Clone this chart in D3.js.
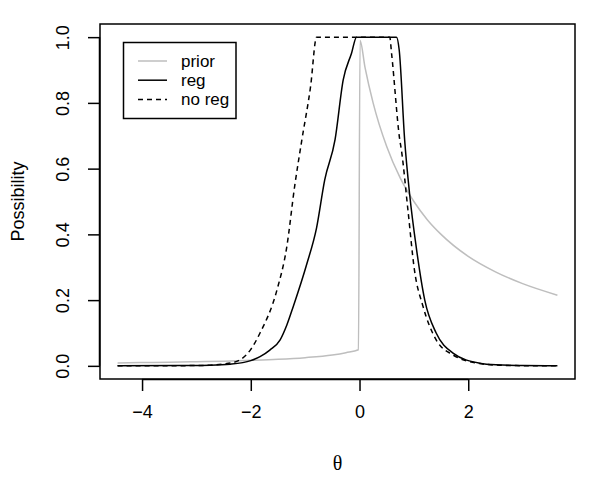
<!DOCTYPE html>
<html>
<head>
<meta charset="utf-8">
<script src="https://cdn.jsdelivr.net/npm/d3@7"></script>
<style>
  body { margin: 0; background: #fff; }
  svg { font-family: "Liberation Sans", Arial, sans-serif; }
</style>
</head>
<body>
<svg id="chart" width="600" height="480"></svg>
<script>
// values
const priorTheta = [-4.45, -4, -3.5, -3, -2.5, -2, -1.5, -1, -0.5, -0.25, -0.02, 0.01, 0.1, 0.25, 0.5, 0.75, 1, 1.25, 1.5, 2, 2.5, 3, 3.64];
const prior = [0.009, 0.01, 0.011, 0.0125, 0.014, 0.0167, 0.02, 0.025, 0.033, 0.04, 0.049, 0.99, 0.909, 0.8, 0.667, 0.571, 0.5, 0.444, 0.4, 0.333, 0.286, 0.25, 0.215];

const regTheta = [-4.45, -3.3, -2.75, -2.38, -2.0, -1.83, -1.65, -1.46, -1.335, -1.22, -0.97, -0.79, -0.64, -0.45, -0.3, -0.147, -0.055, 0.68, 0.73, 0.83, 0.92, 1.05, 1.2, 1.41, 1.72, 2.21, 2.51, 3.0, 3.64];
const reg = [0, 0.001, 0.002, 0.005, 0.016, 0.028, 0.048, 0.079, 0.125, 0.18, 0.31, 0.42, 0.566, 0.688, 0.87, 0.951, 1, 1, 0.961, 0.688, 0.525, 0.353, 0.2, 0.1, 0.039, 0.008, 0.003, 0.001, 0];

const noRegTheta = [-4.45, -3.4, -2.93, -2.47, -2.2, -2.0, -1.83, -1.52, -1.34, -1.19, -1.06, -0.9, -0.79, 0.556, 0.59, 0.74, 0.77, 0.89, 1.01, 1.17, 1.41, 1.72, 2.21, 2.57, 3.0, 3.64];
const noReg = [0, 0.0005, 0.001, 0.006, 0.018, 0.05, 0.1, 0.23, 0.36, 0.55, 0.688, 0.85, 1, 1, 0.95, 0.688, 0.657, 0.475, 0.292, 0.18, 0.079, 0.033, 0.007, 0.002, 0.0005, 0];

const xTicks = [-4, -2, 0, 2];
const yTicks = [0, 0.2, 0.4, 0.6, 0.8, 1.0];

const legendLabels = ["prior", "reg", "no reg"];

const svg = d3.select("#chart");
const plot = { left: 100, right: 575, top: 24, bottom: 379 };
const fontSize = 18;
const lw = 1.5;

// R style 4% padding on both axes
const xPad = (3.64 + 4.45) * 0.04;
const x = d3.scaleLinear()
  .domain([-4.45 - xPad, 3.64 + xPad])
  .range([plot.left, plot.right]);
const y = d3.scaleLinear()
  .domain([-0.04, 1.04])
  .range([plot.bottom, plot.top]);

const line = d3.line()
  .x((d) => x(d[0]))
  .y((d) => y(d[1]))
  .curve(d3.curveMonotoneX);

const zip = (a, b) => a.map((v, i) => [v, b[i]]);

svg.append("path")
  .datum(zip(priorTheta, prior))
  .attr("d", line)
  .attr("fill", "none")
  .attr("stroke", "#bebebe")
  .attr("stroke-width", lw);

svg.append("path")
  .datum(zip(regTheta, reg))
  .attr("d", line)
  .attr("fill", "none")
  .attr("stroke", "#000")
  .attr("stroke-width", lw);

svg.append("path")
  .datum(zip(noRegTheta, noReg))
  .attr("d", line)
  .attr("fill", "none")
  .attr("stroke", "#000")
  .attr("stroke-width", lw)
  .attr("stroke-dasharray", "5,4");

// box
svg.append("rect")
  .attr("x", plot.left)
  .attr("y", plot.top)
  .attr("width", plot.right - plot.left)
  .attr("height", plot.bottom - plot.top)
  .attr("fill", "none")
  .attr("stroke", "#000")
  .attr("stroke-width", lw);

// axes
const xAxis = svg.append("g")
  .attr("transform", `translate(0,${plot.bottom})`)
  .call(d3.axisBottom(x).tickValues(xTicks).tickSize(12).tickPadding(14)
    .tickFormat((d) => d3.format("d")(d).replace("-", "\u2212")));
xAxis.select(".domain").attr("d", `M${x(-4)},0.5H${x(2)}`).attr("stroke-width", lw);
xAxis.selectAll(".tick line").attr("stroke-width", lw);
xAxis.selectAll("text").attr("font-size", fontSize).attr("fill", "#000");

const yAxis = svg.append("g")
  .attr("transform", `translate(${plot.left},0)`)
  .call(d3.axisLeft(y).tickValues(yTicks).tickSize(12).tickFormat(d3.format(".1f")));
yAxis.select(".domain").attr("d", `M-0.5,${y(0)}V${y(1)}`).attr("stroke-width", lw);
yAxis.selectAll(".tick line").attr("stroke-width", lw);
yAxis.selectAll("text")
  .attr("font-size", fontSize)
  .attr("fill", "#000")
  .attr("x", null)
  .attr("dy", null)
  .attr("text-anchor", "middle")
  .attr("dominant-baseline", "central")
  .attr("transform", "translate(-37,0) rotate(-90)");

// axis titles
svg.append("text")
  .attr("x", (plot.left + plot.right) / 2)
  .attr("y", 463)
  .attr("text-anchor", "middle")
  .attr("dominant-baseline", "central")
  .attr("font-family", "'Liberation Serif', 'DejaVu Serif', serif")
  .attr("font-size", 20)
  .text("\u03b8");

svg.append("text")
  .attr("transform", `translate(18,${(plot.top + plot.bottom) / 2}) rotate(-90)`)
  .attr("text-anchor", "middle")
  .attr("dominant-baseline", "central")
  .attr("font-size", fontSize)
  .text("Possibility");

// legend
const legend = svg.append("g");
legend.append("rect")
  .attr("x", 123.5)
  .attr("y", 42.5)
  .attr("width", 112.5)
  .attr("height", 76)
  .attr("fill", "#fff")
  .attr("stroke", "#000")
  .attr("stroke-width", lw);

const legendStyles = [
  { stroke: "#bebebe", dash: null },
  { stroke: "#000", dash: null },
  { stroke: "#000", dash: "5,4" },
];

legendLabels.forEach((lab, i) => {
  const ly = 61 + i * 19.2;
  legend.append("line")
    .attr("x1", 138)
    .attr("x2", 167)
    .attr("y1", ly)
    .attr("y2", ly)
    .attr("stroke", legendStyles[i].stroke)
    .attr("stroke-width", lw)
    .attr("stroke-dasharray", legendStyles[i].dash);
  legend.append("text")
    .attr("x", 181)
    .attr("y", ly)
    .attr("dominant-baseline", "central")
    .attr("font-size", 17)
    .text(lab);
});
</script>
</body>
</html>
